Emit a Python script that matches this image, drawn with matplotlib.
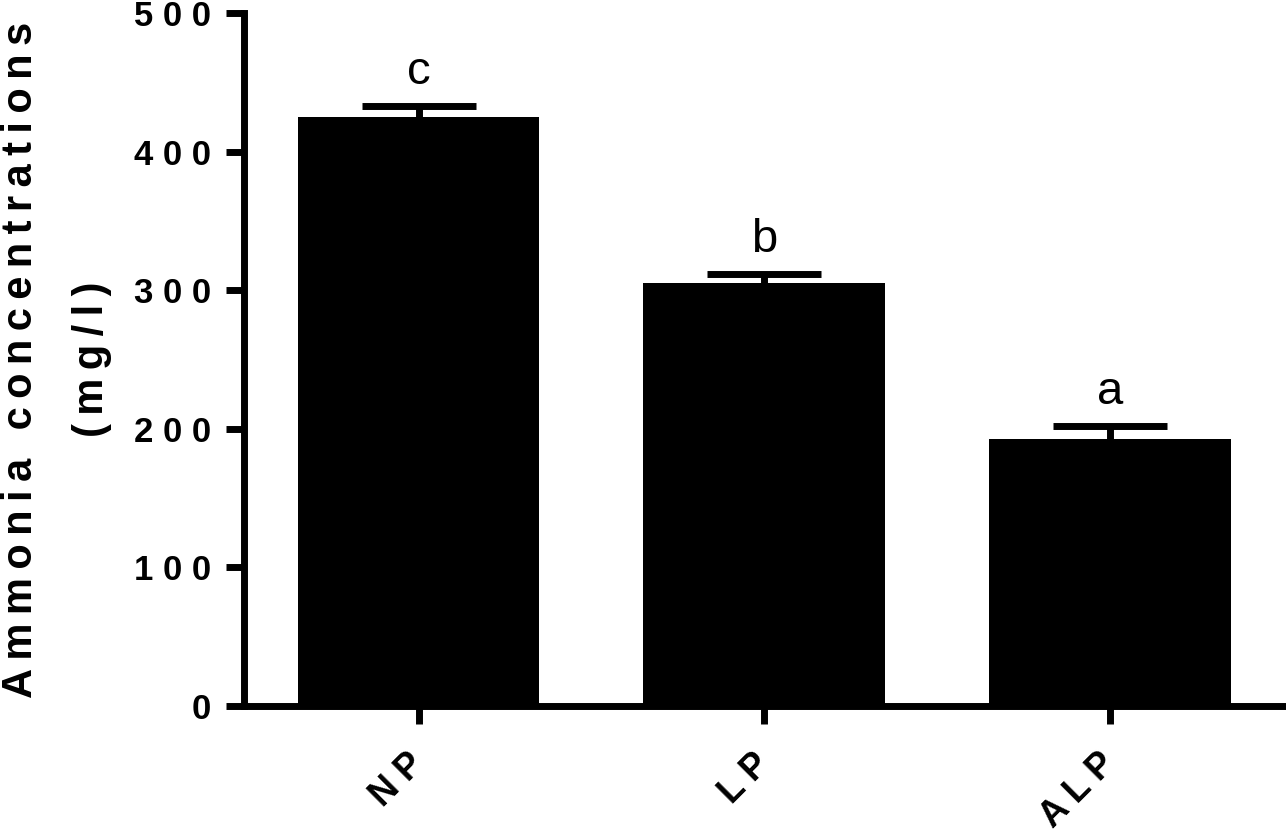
"""Ammonia concentration bar chart (NP / LP / ALP) with significance letters."""

import matplotlib

matplotlib.use("Agg")
import matplotlib.pyplot as plt
import numpy as np


groups = ["NP", "LP", "ALP"]
ammonia_mean = [425, 305, 193]
ammonia_err = [8, 6.5, 9]
sig_letters = ["c", "b", "a"]
y_ticks = [0, 100, 200, 300, 400, 500]

THIN = "\u2009"


def spaced(text: str, gap: str = " ") -> str:
    """Mimic GraphPad letter spacing by putting a gap between characters."""
    return gap.join(text)


def main() -> None:
    plt.rcParams["font.family"] = ["Liberation Sans", "DejaVu Sans"]

    figure = plt.figure(figsize=(12.86, 8.38), dpi=100)
    axis = figure.add_axes([244 / 1286, 132 / 838, 1042 / 1286, 693 / 838])

    x = np.arange(len(groups))
    axis.bar(x, ammonia_mean, width=0.7, color="black", edgecolor="none", zorder=2)

    lower = np.zeros(len(ammonia_err))
    _, caplines, _ = axis.errorbar(
        x,
        ammonia_mean,
        yerr=[lower, ammonia_err],
        fmt="none",
        ecolor="black",
        elinewidth=5,
        capsize=41,
        capthick=5,
        zorder=1,
    )
    caplines[0].set_visible(False)

    for xi, mean, err, letter in zip(x, ammonia_mean, ammonia_err, sig_letters):
        axis.annotate(
            letter,
            xy=(xi, mean + err),
            xytext=(0, 16),
            textcoords="offset points",
            ha="center",
            va="baseline",
            fontsize=34,
        )

    axis.set_xlim(-0.505, 2.51)
    axis.set_ylim(0, 500)
    axis.set_yticks(y_ticks)
    axis.set_yticklabels([spaced(str(v)) for v in y_ticks], fontsize=25, fontweight="bold")
    axis.set_xticks(x)
    axis.set_xticklabels(
        [spaced(g) for g in groups],
        fontsize=26,
        fontweight="bold",
        rotation=45,
        ha="right",
        va="center",
        rotation_mode="anchor",
    )

    for side in ("top", "right"):
        axis.spines[side].set_visible(False)
    for side in ("left", "bottom"):
        axis.spines[side].set_linewidth(5)
        axis.spines[side].set_capstyle("projecting")
    axis.tick_params(axis="both", length=13, width=5, pad=11, color="black")
    axis.tick_params(axis="x", pad=25)

    word_gap = THIN + " " + THIN
    label_top = spaced("Ammonia", THIN) + word_gap + spaced("concentrations", THIN)
    label_bottom = spaced("(mg/l)", THIN)
    axis.set_ylabel(
        label_top + "\n" + label_bottom,
        fontsize=30,
        fontweight="bold",
        linespacing=2.0,
    )
    axis.yaxis.set_label_coords(-0.127, 0.5)

    figure.savefig("out.png", dpi=100)
    plt.close(figure)


if __name__ == "__main__":
    main()
